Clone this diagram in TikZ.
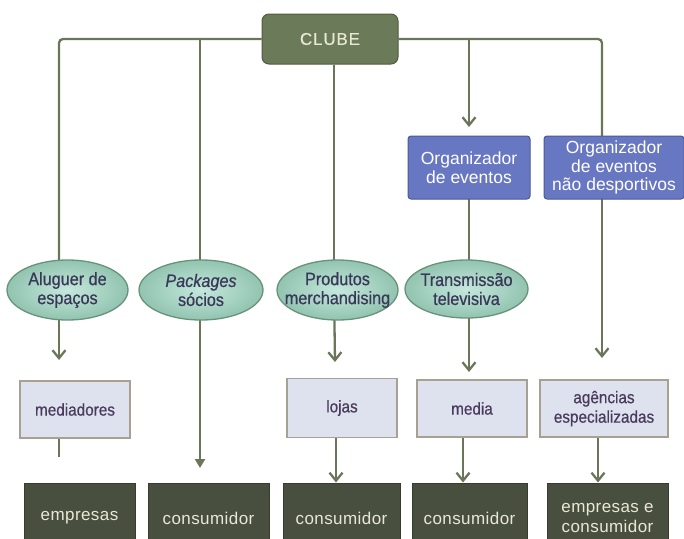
\documentclass[tikz,border=0pt]{standalone}
\usepackage{fontspec}
\setmainfont{Liberation Sans}
\newfontfamily\narrowsans[FakeStretch=0.9,FakeBold=0.6]{Liberation Sans}
\newfontfamily\spacedsans[LetterSpace=5,FakeBold=0.3]{Liberation Sans}
\newfontfamily\widesans[LetterSpace=2.5]{Liberation Sans}
\usetikzlibrary{shapes.geometric,arrows.meta,backgrounds}

\definecolor{linec}{RGB}{107,117,90}
\definecolor{clubefill}{RGB}{107,122,88}
\definecolor{clubedraw}{RGB}{80,92,64}
\definecolor{orgfill}{RGB}{104,119,193}
\definecolor{orgdraw}{RGB}{76,88,150}
\definecolor{ovalin}{RGB}{196,232,220}
\definecolor{ovalout}{RGB}{146,196,176}
\definecolor{ovaldraw}{RGB}{104,146,122}
\definecolor{ovaltext}{RGB}{58,56,88}
\definecolor{lightfill}{RGB}{222,226,239}
\definecolor{lightdraw}{RGB}{168,160,145}
\definecolor{lighttext}{RGB}{74,58,92}
\definecolor{darkfill}{RGB}{73,79,63}
\definecolor{darkdraw}{RGB}{55,60,46}
\definecolor{paletext}{RGB}{232,232,214}

\begin{document}
\begin{tikzpicture}[x=1pt,y=-1pt,
  clubebox/.style={draw=clubedraw, line width=1pt, fill=clubefill, rounded corners=7pt,
    minimum width=136pt, minimum height=50pt, inner sep=0pt, text=paletext,
    font=\fontsize{17}{18}\spacedsans},
  orgbox/.style={draw=orgdraw, line width=1pt, fill=orgfill, rounded corners=3pt,
    minimum height=63pt, inner sep=0pt, align=center, text=white,
    font=\fontsize{17.5}{18.5}\selectfont},
  oval/.style={ellipse, draw=ovaldraw, line width=1.3pt, inner color=ovalin, outer color=ovalout,
    minimum width=121pt, minimum height=60pt, inner sep=0pt},
  ovaltxt/.style={inner sep=0pt, align=center, text=ovaltext,
    font=\fontsize{18}{19}\narrowsans},
  lightbox/.style={draw=lightdraw, line width=1.5pt, fill=lightfill,
    minimum height=57pt, inner sep=0pt, align=center, text=lighttext,
    font=\fontsize{17}{19.5}\narrowsans},
  darkbox/.style={draw=darkdraw, line width=1pt, fill=darkfill,
    minimum height=70pt, inner sep=0pt, align=center, text=paletext,
    font=\fontsize{17}{20}\widesans},
  link/.style={draw=linec, line width=2.3pt},
  arr/.style={-{Straight Barb[length=8pt,width=13pt]}},
  tri/.style={-{Triangle[length=9pt,width=10pt]}}
]
\clip (0,0) rectangle (684,538);

% top of the hierarchy
\node[clubebox] (clube) at (330,39) {CLUBE};

% event organisers
\node[orgbox, minimum width=122pt] (org1) at (469,167.5) {Organizador\\de eventos};
\node[orgbox, minimum width=140pt] (org2) at (614,167.5) {Organizador\\de eventos\\não desportivos};

% revenue sources: the ellipse keeps its size, the label may reach its rim
\node[oval] (e1) at (67.5,290) {};
\node[ovaltxt] (e1t) at (e1) {Aluguer de\\espaços};
\node[oval, minimum width=124pt] (e2) at (201,290) {};
\node[ovaltxt] (e2t) at (e2) {{\itshape Packages}\\sócios};
\node[oval] (e3) at (337.5,290) {};
\node[ovaltxt] (e3t) at (e3) {Produtos\\merchandising};
\node[oval, minimum width=123pt, minimum height=58pt] (e4) at (466.5,289) {};
\node[ovaltxt] (e4t) at (e4) {Transmissão\\televisiva};

% intermediaries
\node[lightbox, minimum width=110pt] (med) at (75,409.5) {mediadores};
\node[lightbox, minimum width=110pt, minimum height=59pt] (lojas) at (342,408) {lojas};
\node[lightbox, minimum width=110pt] (media) at (472,408.5) {media};
\node[lightbox, minimum width=128pt] (agencias) at (604,408.5) {agências\\especializadas};

% final customers
\node[darkbox, minimum width=111pt] (d1) at (79.5,518) {empresas};
\node[darkbox, minimum width=121pt] (d2) at (208.5,518) {consumidor};
\node[darkbox, minimum width=117pt] (d3) at (341.5,518) {consumidor};
\node[darkbox, minimum width=115pt] (d4) at (469.5,518) {consumidor};
\node[darkbox, minimum width=121pt] (d5) at (607.5,518) {empresas e\\consumidor};

% column positions and free arrow ends
\coordinate (k1) at (59,0);
\coordinate (k2) at (200,0);
\coordinate (k3) at (334,0);
\coordinate (k4) at (469,0);
\coordinate (k5) at (602,0);
\coordinate (kl3) at (336,0);
\coordinate (kl4) at (463,0);
\coordinate (kl5) at (598,0);
\coordinate (t1) at (59,360);
\coordinate (t2) at (200,468);
\coordinate (t3) at (335,362);
\coordinate (t4) at (469,127);
\coordinate (t4b) at (469,372);
\coordinate (t5) at (602,358);
\coordinate (u1) at (59,457);

\begin{scope}[on background layer]
  \draw[link, rounded corners=4pt] (clube.west) -| (k1 |- e1.center);
  \draw[link, tri] (clube.west -| k2) -- (t2);
  \draw[link] (clube.south -| k3) -- (k3 |- e3.center);
  \draw[link, rounded corners=4pt] (clube.east) -| (k5 |- org2.center);
  \draw[link, arr] (clube.east -| k4) -- (t4);
  \draw[link] (org1.center -| k4) -- (k4 |- e4.center);
  \draw[link, arr] (e4.center -| k4) -- (t4b);
  \draw[link, arr] (org2.center -| k5) -- (t5);
  \draw[link, arr] (e1.center -| k1) -- (t1);
  \draw[link, arr] (e3.center -| k3) -- (t3);
  \draw[link] (med.center -| k1) -- (u1);
  \draw[link, arr] (lojas.center -| kl3) -- (kl3 |- d3.north);
  \draw[link, arr] (media.center -| kl4) -- (kl4 |- d4.north);
  \draw[link, arr] (agencias.center -| kl5) -- (kl5 |- d5.north);
\end{scope}
\end{tikzpicture}
\end{document}
